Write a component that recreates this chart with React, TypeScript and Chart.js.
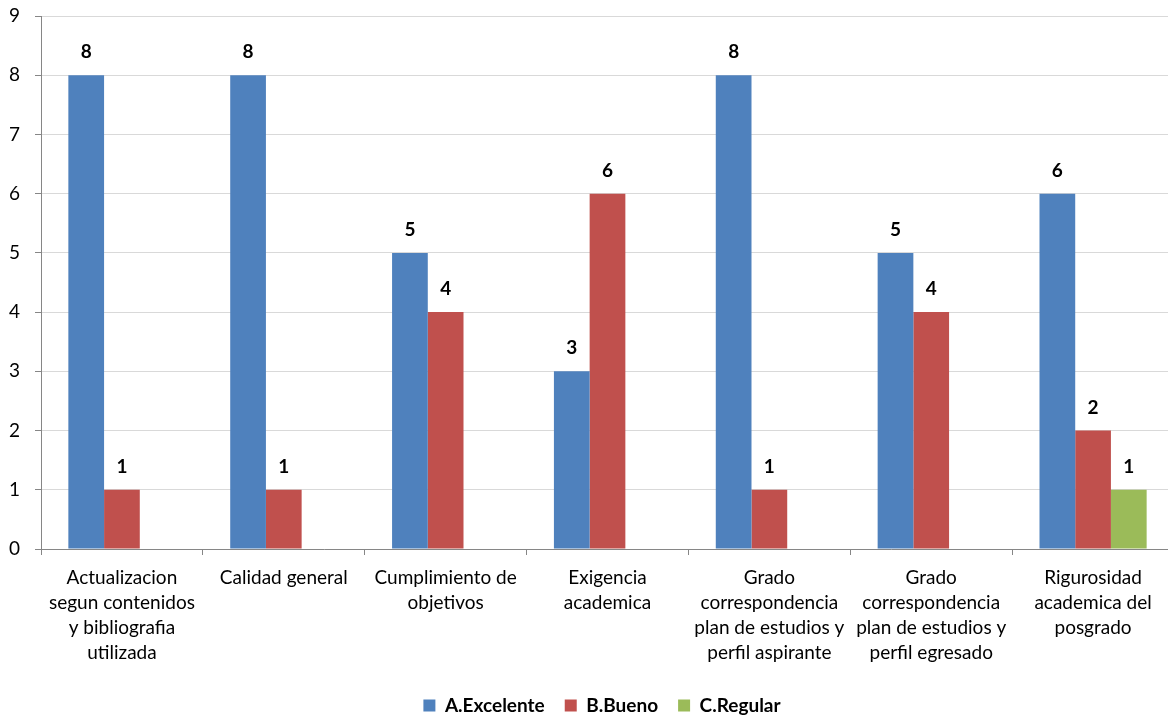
import React, { useEffect, useRef } from "react";
import { Chart, registerables } from "chart.js";

Chart.register(...registerables);

const categories: string[][] = [
  ["Actualizacion", "segun contenidos", "y bibliografia", "utilizada"],
  ["Calidad general"],
  ["Cumplimiento de", "objetivos"],
  ["Exigencia", "academica"],
  ["Grado", "correspondencia", "plan de estudios y", "perfil aspirante"],
  ["Grado", "correspondencia", "plan de estudios y", "perfil egresado"],
  ["Rigurosidad", "academica del", "posgrado"],
];

const excelente: (number | null)[] = [8, 8, 5, 3, 8, 5, 6];
const bueno: (number | null)[] = [1, 1, 4, 6, 1, 4, 2];
const regular: (number | null)[] = [null, null, null, null, null, null, 1];

const seriesNames = ["A.Excelente", "B.Bueno", "C.Regular"];
const yTicks = [0, 1, 2, 3, 4, 5, 6, 7, 8, 9];

const FONT = "Lato, 'Open Sans', sans-serif";

const dataLabels = {
  id: "dataLabels",
  afterLayout(chart: any) {
    const l = chart.legend;
    if (l) {
      l.left += 15;
      l.right += 15;
    }
  },
  afterDatasetsDraw(chart: any) {
    const ctx = chart.ctx;
    ctx.save();
    ctx.font = `bold 19px ${FONT}`;
    ctx.fillStyle = "#000";
    ctx.textAlign = "center";
    ctx.textBaseline = "middle";
    chart.data.datasets.forEach((ds: any, i: number) => {
      const meta = chart.getDatasetMeta(i);
      meta.data.forEach((el: any, j: number) => {
        const v = ds.data[j];
        if (v === null || v === undefined) return;
        ctx.fillText(String(v), el.x, el.y - 23);
      });
    });
    ctx.restore();
  },
};

export default function App() {
  const ref = useRef<HTMLCanvasElement>(null);
  useEffect(() => {
    if (!ref.current) return;
    const chart = new Chart(ref.current, {
      type: "bar",
      data: {
        labels: categories,
        datasets: [
          { label: seriesNames[0], data: excelente, backgroundColor: "#4F81BD" },
          { label: seriesNames[1], data: bueno, backgroundColor: "#C0504D" },
          { label: seriesNames[2], data: regular, backgroundColor: "#9BBB59" },
        ],
      },
      options: {
        animation: false,
        responsive: true,
        maintainAspectRatio: false,
        datasets: {
          bar: { categoryPercentage: 0.662, barPercentage: 1 },
        },
        layout: { padding: { top: 16, right: 0, left: 0, bottom: 0 } },
        plugins: {
          legend: {
            position: "bottom",
            labels: {
              boxWidth: 12,
              boxHeight: 12,
              padding: 20,
              color: "#000",
              font: { family: FONT, size: 19, weight: "bold" },
            },
          },
          tooltip: { enabled: false },
        },
        scales: {
          x: {
            grid: {
              offset: true,
              drawOnChartArea: false,
              drawTicks: true,
              tickLength: 6,
              color: "#868686",
            },
            border: { color: "#868686" },
            ticks: {
              color: "#000",
              maxRotation: 0,
              autoSkip: false,
              padding: 11,
              font: { family: FONT, size: 19, lineHeight: 1.3 },
            },
            afterFit: (s: any) => {
              s.height = 127;
            },
          },
          y: {
            min: 0,
            max: 9,
            afterBuildTicks: (s: any) => {
              s.ticks = yTicks.map((v) => ({ value: v }));
            },
            grid: {
              color: "#D9D9D9",
              tickColor: "#868686",
              tickLength: 6,
            },
            border: { color: "#868686" },
            ticks: {
              color: "#000",
              padding: 15,
              font: { family: FONT, size: 19 },
            },
            afterFit: (s: any) => {
              s.width = 41;
              s.paddingTop = 0;
              s.paddingBottom = 0;
            },
          },
        },
      },
      plugins: [dataLabels],
    });
    return () => chart.destroy();
  }, []);
  return (
    <div
      style={{
        position: "fixed",
        left: 0,
        top: 0,
        width: 1168,
        height: 718,
        overflow: "hidden",
        background: "#fff",
      }}
    >
      <div style={{ position: "relative", width: 1174, height: 725 }}>
        <canvas ref={ref} />
      </div>
    </div>
  );
}
